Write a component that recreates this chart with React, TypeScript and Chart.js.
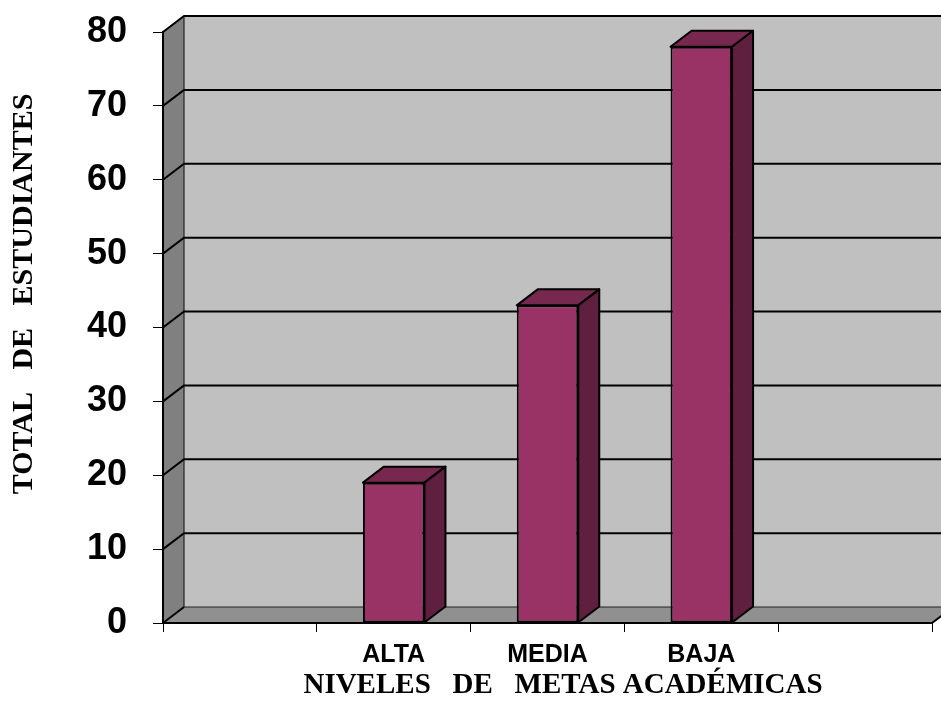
import React, { useEffect, useRef } from "react";
import { Chart, registerables } from "chart.js";

Chart.register(...registerables);

// Data
const categories = ["", "ALTA", "MEDIA", "BAJA", ""];
const students: (number | null)[] = [null, 19, 43, 78, null];
const yTickValues = [0, 10, 20, 30, 40, 50, 60, 70, 80];
const xTitle = "NIVELES   DE   METAS ACADÉMICAS";
const yTitle = "TOTAL   DE   ESTUDIANTES";

// 3D depth offset of the plot box
const DX = 21;
const DY = -16;

const COLORS = {
  backWall: "#C0C0C0",
  sideWall: "#808080",
  floor: "#909090",
  barFront: "#993366",
  barTop: "#76284F",
  barSide: "#5F1F3F",
};

const wallsPlugin = {
  id: "walls3d",
  beforeDraw(chart: any) {
    const { ctx, chartArea, scales } = chart;
    const y = scales.y;
    const L = chartArea.left;
    const R = chartArea.right;
    const T = y.getPixelForValue(80);
    const B = y.getPixelForValue(0);
    ctx.save();
    // back wall
    ctx.fillStyle = COLORS.backWall;
    ctx.fillRect(L + DX, T + DY, R - L + 40, B - T);
    // left wall
    ctx.beginPath();
    ctx.moveTo(L, T);
    ctx.lineTo(L + DX, T + DY);
    ctx.lineTo(L + DX, B + DY);
    ctx.lineTo(L, B);
    ctx.closePath();
    ctx.fillStyle = COLORS.sideWall;
    ctx.fill();
    // floor
    ctx.beginPath();
    ctx.moveTo(L, B);
    ctx.lineTo(L + DX, B + DY);
    ctx.lineTo(R + DX, B + DY);
    ctx.lineTo(R, B);
    ctx.closePath();
    ctx.fillStyle = COLORS.floor;
    ctx.fill();

    // back wall left edge and floor back edge
    ctx.strokeStyle = "#222";
    ctx.lineWidth = 1.2;
    ctx.beginPath();
    ctx.moveTo(L + DX, T + DY);
    ctx.lineTo(L + DX, B + DY);
    ctx.lineTo(R + DX + 40, B + DY);
    ctx.stroke();

    // gridlines on walls
    ctx.strokeStyle = "#000";
    ctx.lineWidth = 2;
    yTickValues.forEach((v) => {
      const py = y.getPixelForValue(v);
      ctx.beginPath();
      ctx.moveTo(L, py);
      ctx.lineTo(L + DX, py + DY);
      if (v > 0) ctx.lineTo(R + DX + 40, py + DY);
      ctx.stroke();
    });

    // floor right edge
    ctx.beginPath();
    ctx.moveTo(R, B);
    ctx.lineTo(R + DX, B + DY);
    ctx.stroke();
    ctx.restore();
  },
  afterDatasetsDraw(chart: any) {
    const { ctx } = chart;
    const meta = chart.getDatasetMeta(0);
    ctx.save();
    ctx.strokeStyle = "#000";
    ctx.lineWidth = 2;
    ctx.lineJoin = "round";
    meta.data.forEach((bar: any, i: number) => {
      if (students[i] == null) return;
      const { x, y, base, width } = bar.getProps(["x", "y", "base", "width"], true);
      const l = x - width / 2;
      const r = x + width / 2;
      // top face
      ctx.beginPath();
      ctx.moveTo(l, y);
      ctx.lineTo(l + DX, y + DY);
      ctx.lineTo(r + DX, y + DY);
      ctx.lineTo(r, y);
      ctx.closePath();
      ctx.fillStyle = COLORS.barTop;
      ctx.fill();
      ctx.stroke();
      // side face
      ctx.beginPath();
      ctx.moveTo(r, y);
      ctx.lineTo(r + DX, y + DY);
      ctx.lineTo(r + DX, base + DY);
      ctx.lineTo(r, base);
      ctx.closePath();
      ctx.fillStyle = COLORS.barSide;
      ctx.fill();
      ctx.stroke();
    });
    ctx.restore();
  },
  afterDraw(chart: any) {
    const { ctx, chartArea } = chart;
    ctx.save();
    ctx.fillStyle = "#000";
    ctx.font = "bold 29px 'Liberation Serif', 'Times New Roman', serif";
    ctx.textAlign = "center";
    ctx.textBaseline = "alphabetic";
    ctx.fillText(xTitle, chartArea.left + 400, 693);

    ctx.translate(32, 294);
    ctx.rotate(-Math.PI / 2);
    ctx.font = "bold 30px 'Liberation Serif', 'Times New Roman', serif";
    ctx.fillText(yTitle, 0, 0);
    ctx.restore();
  },
};

export default function App() {
  const canvasRef = useRef<HTMLCanvasElement | null>(null);

  useEffect(() => {
    if (!canvasRef.current) return;
    const chart = new Chart(canvasRef.current, {
      type: "bar",
      data: {
        labels: categories,
        datasets: [
          {
            data: students as any,
            backgroundColor: COLORS.barFront,
            borderColor: "#000",
            borderWidth: 2,
            borderSkipped: false,
            categoryPercentage: 1,
            barPercentage: 0.4,
          },
        ],
      },
      options: {
        animation: false,
        responsive: false,
        devicePixelRatio: 1,
        layout: {
          autoPadding: false,
          padding: { top: 32, right: 9, left: 0, bottom: 0 },
        },
        plugins: {
          legend: { display: false },
          tooltip: { enabled: false },
        },
        scales: {
          x: {
            offset: true,
            grid: {
              offset: true,
              drawOnChartArea: false,
              drawTicks: true,
              tickLength: 9,
              color: "#000",
              lineWidth: 1,
            },
            border: { display: true, color: "#000", width: 2 },
            ticks: {
              color: "#000",
              padding: 8,
              maxRotation: 0,
              autoSkip: false,
              font: { family: "'Liberation Sans', Arial, sans-serif", size: 25, weight: "bold" },
            },
            afterFit(scale: any) {
              scale.height = 92;
              scale.paddingLeft = 0;
              scale.paddingRight = 0;
              scale.paddingTop = 0;
              scale.paddingBottom = 0;
            },
          },
          y: {
            min: 0,
            max: 80,
            ticks: {
              stepSize: 10,
              color: "#000",
              padding: 26,
              font: { family: "'Liberation Sans', Arial, sans-serif", size: 36, weight: "bold" },
            },
            grid: {
              drawOnChartArea: false,
              drawTicks: true,
              tickLength: 10,
              color: "#000",
              lineWidth: 1,
            },
            border: { display: true, color: "#000", width: 2 },
            afterFit(scale: any) {
              scale.width = 163;
              scale.paddingLeft = 0;
              scale.paddingRight = 0;
              scale.paddingTop = 0;
              scale.paddingBottom = 0;
            },
          },
        },
      },
      plugins: [wallsPlugin],
    });
    return () => chart.destroy();
  }, []);

  return (
    <div style={{ position: "fixed", left: 0, top: 0, width: 941, height: 715, background: "#fff" }}>
      <canvas ref={canvasRef} width={941} height={715} style={{ display: "block" }} />
    </div>
  );
}
